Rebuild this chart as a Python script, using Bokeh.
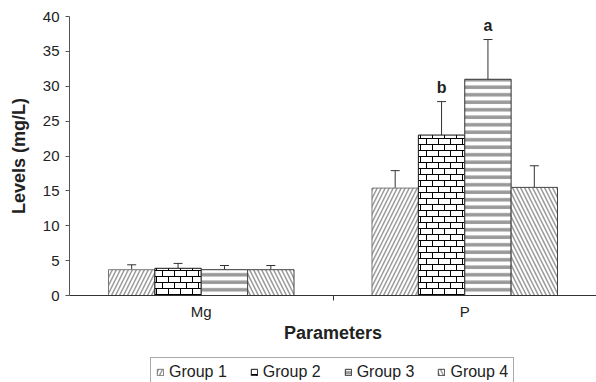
import base64
from bokeh.plotting import figure
from bokeh.layouts import column
from bokeh.models import (Range1d, FixedTicker, Whisker, ColumnDataSource, TeeHead,
                          Legend, ImageURLTexture)
from bokeh.core.properties import value
from bokeh.embed import file_html
from bokeh.resources import INLINE

# ---- data ----
params = ["Mg", "P"]
groups = ["Group 1", "Group 2", "Group 3", "Group 4"]
g1_mean = [3.7, 15.4]
g1_sd = [0.7, 2.5]
g2_mean = [3.9, 23.0]
g2_sd = [0.7, 4.8]
g3_mean = [3.7, 31.0]
g3_sd = [0.6, 5.7]
g4_mean = [3.7, 15.5]
g4_sd = [0.6, 3.1]
g2_letters = ["", "b"]
g3_letters = ["", "a"]
y_ticks = [0, 5, 10, 15, 20, 25, 30, 35, 40]

FONT = "Liberation Sans"
BAR_W = 0.176

brick_svg = ("<svg xmlns='http://www.w3.org/2000/svg' width='12' height='12'>"
             "<rect width='12' height='12' fill='white'/>"
             "<path d='M0 0.5H12M0 6.5H12M0.5 0V6.5M6.5 6.5V12' stroke='black' stroke-width='1' fill='none'/>"
             "</svg>")
brick_url = "data:image/svg+xml;base64," + base64.b64encode(brick_svg.encode()).decode()

p = figure(width=596, height=355, output_backend="svg", toolbar_location=None,
           x_range=Range1d(0, len(params)), y_range=Range1d(0, 40),
           min_border_left=69, min_border_right=0, min_border_top=16, min_border_bottom=60)
p.outline_line_color = None
p.xgrid.visible = False
p.ygrid.visible = False
p.background_fill_color = "white"
p.border_fill_color = "white"

# legend-only figure below the chart
lg = figure(width=596, height=27, output_backend="svg", toolbar_location=None,
            x_range=Range1d(100, 101), y_range=Range1d(100, 101),
            x_axis_type=None, y_axis_type=None,
            min_border_left=0, min_border_right=0, min_border_top=0, min_border_bottom=0)
lg.outline_line_color = None
lg.xgrid.visible = False
lg.ygrid.visible = False
lg.background_fill_color = "white"
lg.border_fill_color = "white"

def styles():
    return [
        dict(hatch_pattern="right_diagonal_line", hatch_color="#9a9a9a", hatch_weight=1.5,
             hatch_scale=8, line_color="#777777"),
        dict(hatch_pattern=value("brick"),
             hatch_extra={"brick": ImageURLTexture(url=brick_url, repetition="repeat")},
             line_color="#111111"),
        dict(hatch_pattern="horizontal_line", hatch_color="#999999", hatch_weight=3.5,
             hatch_scale=7.5, line_color="#333333"),
        dict(hatch_pattern="left_diagonal_line", hatch_color="#9a9a9a", hatch_weight=1.5,
             hatch_scale=8, line_color="#444444"),
    ]

means = [g1_mean, g2_mean, g3_mean, g4_mean]
sds = [g1_sd, g2_sd, g3_sd, g4_sd]
letters = [[""] * len(params), g2_letters, g3_letters, [""] * len(params)]

items = []
main_styles = styles()
leg_styles = styles()
for k, (name, m, s) in enumerate(zip(groups, means, sds)):
    xs = [i + 0.5 + (k - 1.5) * BAR_W for i in range(len(params))]
    tops = [a + b for a, b in zip(m, s)]
    src = ColumnDataSource(dict(x=xs, mean=m, top=tops, lab=letters[k]))
    p.vbar(x="x", top="mean", width=BAR_W, bottom=0, source=src,
           fill_color="white", line_width=1, **main_styles[k])
    w = Whisker(base="x", lower="mean", upper="top", source=src, dimension="height",
                line_color="#333333", line_width=1,
                upper_head=TeeHead(size=9, line_color="#333333", line_width=1),
                lower_head=None)
    p.add_layout(w)
    p.text(x="x", y="top", text="lab", source=src, text_align="center",
           text_baseline="bottom", y_offset=-6, text_font=value(FONT),
           text_font_style="bold", text_font_size="16px", text_color="#222222")
    r2 = lg.vbar(x="x", top="mean", width=BAR_W, bottom=0, source=src,
                 fill_color="white", line_width=1, **leg_styles[k])
    items.append((name, [r2]))

# axes
xa = p.xaxis[0]
xa.ticker = FixedTicker(ticks=[i + 0.5 for i in range(len(params))],
                        minor_ticks=[float(i) for i in range(1, len(params))])
xa.major_label_overrides = {i + 0.5: name for i, name in enumerate(params)}
xa.major_tick_out = 0
xa.major_tick_in = 0
xa.minor_tick_out = 5
xa.minor_tick_in = 0
xa.minor_tick_line_color = "#333333"
xa.axis_line_color = "#333333"
xa.major_label_standoff = 2
xa.major_label_text_font = FONT
xa.major_label_text_font_size = "15px"
xa.major_label_text_color = "#222222"
xa.axis_label = "Parameters"
xa.axis_label_text_font = FONT
xa.axis_label_text_font_size = "18px"
xa.axis_label_text_font_style = "bold"
xa.axis_label_text_color = "#222222"
xa.axis_label_standoff = 0

ya = p.yaxis[0]
ya.ticker = FixedTicker(ticks=y_ticks)
ya.minor_tick_line_color = None
ya.major_tick_out = 4
ya.major_tick_in = 0
ya.major_tick_line_color = "#555555"
ya.axis_line_color = "#555555"
ya.major_label_standoff = 6
ya.major_label_text_font = FONT
ya.major_label_text_font_size = "15px"
ya.major_label_text_color = "#222222"
ya.axis_label = "Levels (mg/L)"
ya.axis_label_text_font = FONT
ya.axis_label_text_font_size = "18px"
ya.axis_label_text_font_style = "bold"
ya.axis_label_text_color = "#222222"
ya.axis_label_standoff = 11

legend = Legend(items=items, orientation="horizontal", location=(81, -5),
                label_text_font=FONT, label_text_font_size="16px", label_text_color="#222222",
                glyph_width=8, glyph_height=8, label_standoff=5, spacing=23,
                padding=5, margin=0, label_height=14,
                border_line_color="#555555", border_line_width=1,
                background_fill_color="white", background_fill_alpha=1)
lg.add_layout(legend)

open("out.html", "w").write(file_html(column(p, lg), INLINE))
